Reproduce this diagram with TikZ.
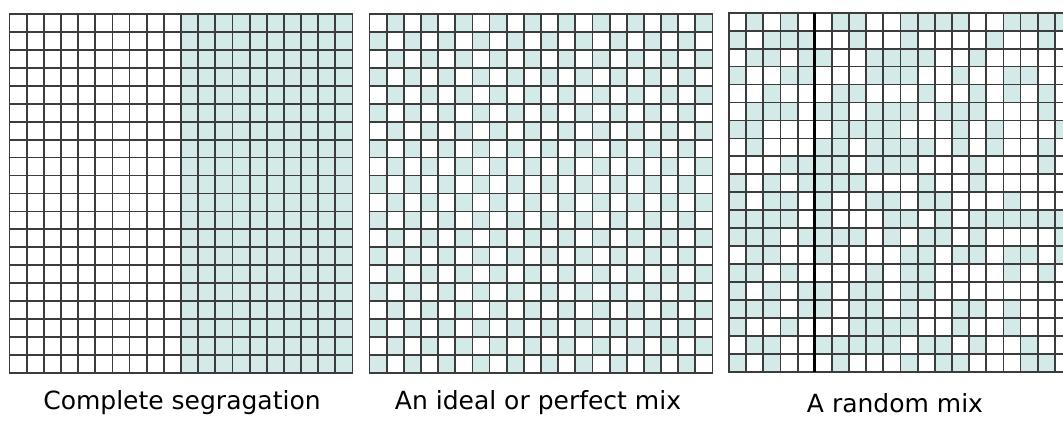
\documentclass[tikz,border=0pt]{standalone}
\usepackage{fontspec}
\newfontfamily\labelfont{DejaVu Sans}
\definecolor{mixfill}{RGB}{212,234,233}
\definecolor{mixline}{RGB}{60,60,60}
\tikzset{
  cellline/.style={draw=mixline, line width=1.8pt},
  cellfill/.style={fill=mixfill},
}
\begin{document}
\begin{tikzpicture}[x=1pt, y=-1pt, every node/.style={font=\labelfont\fontsize{25}{29}\selectfont}]
\clip (0,0) rectangle (1063,430);
\fill[white] (0,0) rectangle (1063,430);
\begin{scope}[xshift=9.5pt, yshift=-14pt, x=17.15pt, y=-17.95pt]
\fill[cellfill] (10,0) rectangle (20,20);
\foreach \i in {0,...,20} {
  \draw[cellline] (\i,0) -- (\i,20);
  \draw[cellline] (0,\i) -- (20,\i);
}
\draw[cellline] (0,0) rectangle (20,20);
\end{scope}
\begin{scope}[xshift=369.5pt, yshift=-14pt, x=17.15pt, y=-17.95pt]
\foreach \r in {1,...,20}
  \foreach \c in {1,...,20} {
    \pgfmathparse{int(mod(\r+\c,2))}
    \ifnum\pgfmathresult=1 \fill[cellfill] (\c-1,\r-1) rectangle (\c,\r); \fi
  }
\foreach \i in {0,...,20} {
  \draw[cellline] (\i,0) -- (\i,20);
  \draw[cellline] (0,\i) -- (20,\i);
}
\draw[cellline] (0,0) rectangle (20,20);
\end{scope}
\begin{scope}[xshift=729pt, yshift=-12.7pt, x=17.15pt, y=-17.96pt]
\foreach \r/\cols in {
  1/{2,4,7,8,11,12,13,14,17,18,19,20},
  2/{1,3,4,5,8,11,16,19},
  3/{2,3,5,6,9,10,11,12,15},
  4/{1,4,5,9,10,11,14,17,18},
  5/{3,7,8,12,15,17,19},
  6/{2,3,4,6,7,9,10,11,13,14,15,19},
  7/{1,2,7,8,9,10,14,16,20},
  8/{2,6,7,9,10,11,12,14,16,19},
  9/{4,5,6,7,9,10,11,15,19},
  10/{1,3,5,6,7,8,12,15},
  11/{1,3,4,6,9,10,12,13,17},
  12/{1,2,3,4,6,10,11,13,15,16,17,18,19,20},
  13/{1,2,3,5,6,7,8,10,12,13,15,20},
  14/{2,3,6,11,12,14,15,17,18,20},
  15/{1,2,4,9,11,12,17,19},
  16/{1,3,5,6,8,9,11,12},
  17/{1,2,3,5,6,8,9,11,14,15,17},
  18/{1,4,8,9,10,11,14,17},
  19/{2,3,6,7,8,9,10,12,13,15,18},
  20/{1,3,7,11,13,14,18,19}}
  \foreach \c in \cols
    \fill[cellfill] (\c-1,\r-1) rectangle (\c,\r);
\foreach \i in {0,...,20} {
  \draw[cellline] (\i,0) -- (\i,20);
  \draw[cellline] (0,\i) -- (20,\i);
}
\draw[cellline] (0,0) rectangle (20,20);
\draw[draw=black, line width=2.6pt] (5,0) -- (5,20);
\end{scope}
\node (seg) at (182,403) {Complete segragation};
\node (ideal) at (538,403) {An ideal or perfect mix};
\node (random) at (895,403) {A random mix};
\end{tikzpicture}
\end{document}
